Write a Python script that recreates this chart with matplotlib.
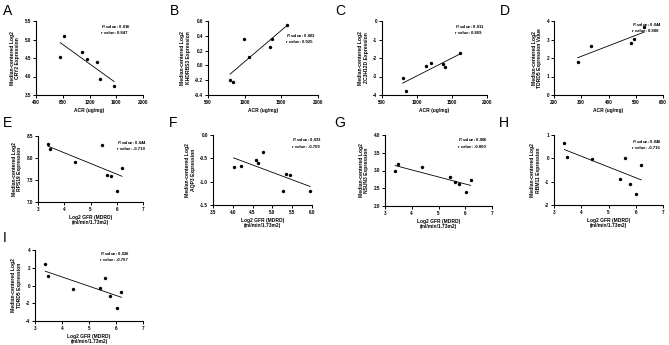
import numpy as np
import matplotlib
matplotlib.use('Agg')
from matplotlib import pyplot as plt

plt.rcParams['font.family'] = ['Liberation Sans', 'DejaVu Sans']
plt.rcParams['mathtext.fontset'] = 'custom'
plt.rcParams['mathtext.it'] = 'Liberation Sans:italic:bold'
plt.rcParams['mathtext.rm'] = 'Liberation Sans:bold'

# values
acr_a = [763, 812, 1086, 1165, 1319, 1354, 1568]
cry2 = [4.53, 5.09, 4.67, 4.48, 4.40, 3.92, 3.75]

acr_b = [800, 846, 985, 1058, 1345, 1372, 1584]
khdrbs3 = [-0.20, -0.22, 0.35, 0.11, 0.25, 0.35, 0.55]

acr_c = [795, 843, 1129, 1200, 1367, 1405, 1619]
zc3h12d = [-3.08, -3.80, -2.42, -2.28, -2.33, -2.51, -1.72]

acr_d = [287, 335, 481, 493, 531]
tdrd5_acr = [1.81, 2.65, 2.80, 3.05, 3.70]

gfr = [3.38, 3.47, 4.40, 5.42, 5.61, 5.78, 6.02, 6.20]
rps19 = [8.31, 8.20, 7.90, 8.30, 7.62, 7.58, 7.25, 7.78]
nsun3 = [2.99, 3.17, 3.10, 2.82, 2.67, 2.63, 2.39, 2.72]
rbm11 = [0.67, 0.04, -0.03, -0.90, 0.03, -1.09, -1.53, -0.28]
tdrd5_gfr = [2.42, 1.07, -0.44, -0.29, 0.87, -1.23, -2.58, -0.74]

gfr_f = [4.02, 4.20, 4.58, 4.64, 4.77, 5.26, 5.35, 5.45, 5.95]
aqp3 = [-0.68, -0.67, -0.54, -0.61, -0.36, -1.20, -0.83, -0.86, -1.21]

acr_label = 'ACR (ug/mg)'
gfr_label = 'Log2 GFR (MDRD)\n(ml/min/1.73m2)'

# letter, x, y, ylabel, xlabel, xticks, yticks, p, r
panels = [
    ('A', acr_a, cry2, 'CRY2 Expression', acr_label, [400, 800, 1200, 1600, 2000], [3.5, 4.0, 4.5, 5.0, 5.5], '0.016', '0.847'),
    ('B', acr_b, khdrbs3, 'KHDRBS3 Expression', acr_label, [500, 1000, 1500, 2000], [-0.4, -0.2, 0.0, 0.2, 0.4, 0.6], '0.003', '0.925'),
    ('C', acr_c, zc3h12d, 'ZC3H12D Expression', acr_label, [500, 1000, 1500, 2000], [-4, -3, -2, -1, 0], '0.011', '0.869'),
    ('D', acr_d, tdrd5_acr, 'TDRD5 Expression Value', acr_label, [200, 300, 400, 500, 600], [0, 1, 2, 3, 4], '0.044', '0.888'),
    ('E', gfr, rps19, 'RPS19 Expression', gfr_label, [3, 4, 5, 6, 7], [7.0, 7.5, 8.0, 8.5], '0.044', '-0.719'),
    ('F', gfr_f, aqp3, 'AQP3 Expression', gfr_label, [3.5, 4.0, 4.5, 5.0, 5.5, 6.0], [-1.5, -1.0, -0.5, 0.0], '0.033', '-0.709'),
    ('G', gfr, nsun3, 'NSUN3 Expression', gfr_label, [3, 4, 5, 6, 7], [2.0, 2.5, 3.0, 3.5, 4.0], '0.006', '-0.860'),
    ('H', gfr, rbm11, 'RBM11 Expression', gfr_label, [3, 4, 5, 6, 7], [-2, -1, 0, 1], '0.046', '-0.716'),
    ('I', gfr, tdrd5_gfr, 'TDRD5 Expression', gfr_label, [3, 4, 5, 6, 7], [-4, -2, 0, 2, 4], '0.026', '-0.767'),
]

W, H = 669, 345
# axes boxes in pixels: left, right, top, bottom
boxes = [
    (36, 143, 21, 95), (208, 318, 21, 95), (382, 487, 21, 95), (554, 663, 21, 95),
    (38, 143, 136, 202), (213, 312, 135, 205), (385, 492, 135, 206), (554, 663, 135, 205),
    (35, 143, 250, 321),
]
# text anchor in axes fraction
txt_pos = [(0.61, 0.97), (0.71, 0.85), (0.70, 0.97), (0.72, 1.0),
           (0.75, 0.96), (0.80, 0.98), (0.68, 0.98), (0.72, 0.96), (0.60, 1.0)]
letter_pos = [(3, 4), (170, 4), (335, 4), (500, 4), (3, 116), (169, 116), (334, 116), (499, 116), (3, 231)]

fig = plt.figure(figsize=(W / 100, H / 100), dpi=100)
tick_fs = 3.3
for i, (let, x, y, gene, xl, xt, yt, p, r) in enumerate(panels):
    l, rr, t, b = boxes[i]
    ax = fig.add_axes([l / W, 1 - b / H, (rr - l) / W, (b - t) / H])
    ax.scatter(x, y, s=6, color='black', zorder=3, linewidths=0)
    k, c = np.polyfit(x, y, 1)
    xs = np.array([min(x), max(x)])
    ax.plot(xs, k * xs + c, color='black', lw=0.6)
    ax.set_xlim(xt[0], xt[-1])
    ax.set_ylim(yt[0], yt[-1])
    ax.set_xticks(xt)
    ax.set_yticks(yt)
    if let == 'F':
        ax.set_xticklabels(['%.1f' % v for v in xt])
    else:
        ax.set_xticklabels(['%d' % v for v in xt])
    if let in 'ABEFG':
        ax.set_yticklabels(['%.1f' % v for v in yt])
    else:
        ax.set_yticklabels(['%d' % v for v in yt])
    for s in ['top', 'right']:
        ax.spines[s].set_visible(False)
    for s in ['left', 'bottom']:
        ax.spines[s].set_linewidth(0.8)
    ax.tick_params(direction='out', length=2, width=0.7, pad=1.5, labelsize=tick_fs)
    for lab in ax.get_xticklabels() + ax.get_yticklabels():
        lab.set_fontweight('bold')
    ax.set_ylabel('Median-centered Log2\n' + gene, fontsize=3.6, fontweight='bold', labelpad=3, linespacing=1.15)
    ax.set_xlabel(xl, fontsize=3.5, fontweight='bold', labelpad=2, linespacing=1.05)
    tx, ty = txt_pos[i]
    ax.text(tx, ty, r'$\it{P}$' + '-value: ' + p + '\nr value: ' + r, transform=ax.transAxes,
            ha='left', va='top', fontsize=3.1, fontweight='bold', linespacing=1.4)
    lx, ly = letter_pos[i]
    fig.text(lx / W, 1 - ly / H, let, fontsize=10, ha='left', va='top')

fig.savefig('out.png', dpi=100)
